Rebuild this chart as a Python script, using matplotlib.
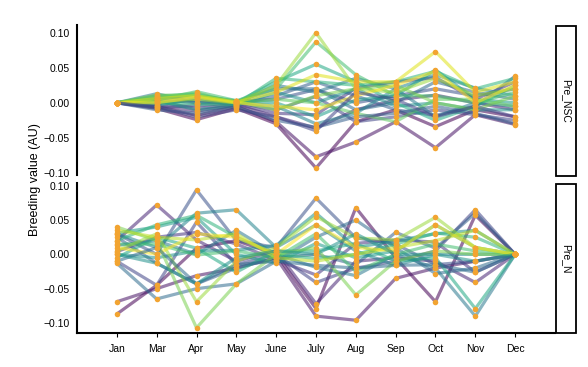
import numpy as np
import matplotlib
matplotlib.use("Agg")
import matplotlib.pyplot as plt
from matplotlib.patches import Rectangle

plt.rcParams['font.family'] = ['Liberation Sans', 'DejaVu Sans']

months = ["Jan", "Mar", "Apr", "May", "June", "July", "Aug", "Sep", "Oct", "Nov", "Dec"]
yticks = [-0.10, -0.05, 0.00, 0.05, 0.10]
panels = ["Pre_NSC", "Pre_N"]

# Pre_NSC lines: (colour position in viridis, values per month)
nsc_colors = [0.0, 0.05, 0.1, 0.15, 0.2, 0.25, 0.3, 0.35, 0.4, 0.45, 0.5,
              0.55, 0.6, 0.65, 0.7, 0.75, 0.8, 0.85, 0.95, 1.0, 0.3, 0.2]
nsc_values = [
    [0, -0.008, -0.024, -0.008, -0.030, -0.093, -0.027, -0.010, -0.034, -0.010, -0.020],
    [0, -0.005, -0.018, -0.005, -0.027, -0.077, -0.056, -0.027, -0.064, -0.017, -0.031],
    [0, -0.003, -0.012, -0.003, -0.020, -0.036, -0.010, 0.004, 0.011, 0.000, -0.010],
    [0, 0.002, -0.008, -0.002, -0.015, -0.017, 0.021, 0.030, 0.036, 0.005, 0.030],
    [0, -0.007, -0.004, 0.000, -0.010, 0.009, -0.027, -0.020, -0.010, -0.017, -0.025],
    [0, 0.005, 0.000, 0.002, 0.005, 0.019, 0.000, 0.010, 0.020, 0.010, 0.020],
    [0, 0.000, 0.004, -0.003, 0.010, 0.030, 0.010, -0.010, -0.018, -0.005, 0.038],
    [0, 0.008, 0.008, 0.001, 0.020, 0.020, -0.010, 0.000, 0.030, 0.015, 0.005],
    [0, 0.013, 0.000, 0.000, 0.025, 0.015, 0.035, 0.020, -0.020, 0.000, -0.005],
    [0, -0.004, 0.006, 0.002, -0.005, -0.030, -0.015, 0.020, 0.040, 0.021, 0.010],
    [0, 0.003, -0.010, -0.004, 0.015, 0.000, 0.020, -0.005, 0.000, -0.010, -0.010],
    [0, 0.006, 0.010, 0.003, 0.000, -0.020, 0.004, 0.010, 0.047, 0.005, 0.000],
    [0, 0.010, 0.012, 0.001, 0.030, 0.055, 0.030, 0.000, -0.025, -0.005, 0.025],
    [0, 0.000, -0.002, -0.002, 0.035, 0.030, 0.025, 0.030, 0.045, 0.020, 0.035],
    [0, 0.004, 0.016, 0.003, 0.020, 0.087, 0.040, 0.010, 0.010, 0.000, 0.015],
    [0, 0.008, 0.014, 0.000, 0.005, 0.000, -0.015, -0.027, 0.005, 0.005, -0.005],
    [0, 0.011, 0.010, 0.002, -0.010, 0.010, 0.020, 0.025, 0.000, -0.010, 0.010],
    [0, 0.002, 0.005, 0.000, 0.025, 0.100, 0.020, 0.015, 0.035, 0.010, 0.020],
    [0, 0.006, 0.010, 0.001, 0.015, 0.040, 0.030, 0.030, 0.073, 0.015, 0.030],
    [0, 0.000, 0.008, 0.000, -0.005, -0.010, 0.010, 0.025, 0.045, 0.000, 0.025],
    [0, -0.010, -0.015, -0.006, -0.025, -0.035, -0.020, -0.015, -0.005, -0.015, -0.030],
    [0, -0.006, -0.020, -0.010, -0.020, -0.040, 0.015, 0.005, -0.020, -0.005, -0.020],
]

# Pre_N lines
n_colors = [0.0, 0.05, 0.1, 0.15, 0.2, 0.25, 0.3, 0.35, 0.4, 0.45, 0.5,
            0.55, 0.6, 0.65, 0.7, 0.8, 0.85, 0.9, 1.0, 0.35, 0.5]
n_values = [
    [-0.087, -0.045, 0.009, 0.020, 0.000, -0.079, 0.068, -0.005, -0.069, 0.057, 0],
    [-0.069, -0.050, -0.031, -0.020, -0.005, -0.090, -0.096, -0.035, -0.020, -0.010, 0],
    [0.020, 0.072, 0.021, -0.010, 0.005, -0.072, -0.010, -0.005, -0.010, -0.041, 0],
    [0.004, 0.025, 0.032, 0.015, -0.008, -0.030, 0.016, 0.021, 0.018, -0.026, 0],
    [-0.010, -0.045, 0.047, -0.015, 0.000, -0.041, -0.020, -0.010, 0.005, 0.065, 0],
    [0.030, 0.000, 0.094, 0.020, 0.010, 0.082, 0.024, 0.015, -0.015, -0.010, 0],
    [0.025, -0.013, -0.043, -0.020, -0.005, 0.000, -0.015, 0.032, 0.009, 0.060, 0],
    [-0.013, -0.065, -0.050, -0.043, -0.010, 0.025, 0.050, 0.010, -0.028, -0.020, 0],
    [0.013, 0.020, 0.000, 0.035, 0.000, -0.019, -0.031, 0.000, -0.020, -0.090, 0],
    [0.030, 0.010, 0.060, 0.065, 0.010, 0.043, 0.005, -0.016, 0.000, 0.000, 0],
    [0.000, -0.005, 0.005, 0.006, 0.013, 0.060, 0.010, 0.020, 0.030, 0.035, 0],
    [0.031, 0.040, 0.054, 0.000, -0.013, 0.016, -0.005, 0.005, 0.043, 0.010, 0],
    [-0.005, 0.025, 0.009, -0.026, 0.005, 0.005, 0.016, -0.010, -0.005, -0.079, 0],
    [0.020, 0.043, 0.057, 0.025, 0.000, -0.006, 0.000, 0.015, 0.031, 0.025, 0],
    [0.015, 0.015, -0.001, 0.005, -0.005, 0.030, -0.025, 0.000, 0.015, 0.005, 0],
    [0.040, 0.020, -0.107, -0.043, 0.000, 0.010, -0.059, -0.010, 0.005, 0.000, 0],
    [0.005, 0.030, -0.069, -0.010, 0.010, 0.055, 0.024, 0.021, 0.054, 0.010, 0],
    [0.035, 0.025, 0.021, 0.030, -0.005, -0.010, 0.000, 0.010, 0.020, 0.035, 0],
    [0.010, 0.000, 0.030, 0.025, 0.000, 0.043, 0.010, 0.005, 0.043, 0.010, 0],
    [-0.010, 0.010, -0.043, -0.015, -0.010, -0.016, -0.020, -0.016, -0.015, -0.026, 0],
    [0.000, -0.013, -0.043, -0.005, 0.005, 0.000, 0.030, 0.000, 0.000, -0.010, 0],
]

W, H = 588, 367
fig = plt.figure(figsize=(W / 100, H / 100), dpi=100)

def fx(px):
    return px / W

def fy(py):
    return 1 - py / H

ax_left, ax_right = 77, 555
ax1 = fig.add_axes([fx(ax_left), fy(175), fx(ax_right - ax_left), (175 - 25) / H])
ax2 = fig.add_axes([fx(ax_left), fy(333), fx(ax_right - ax_left), (333 - 183) / H])

cmap = plt.get_cmap('viridis')
pt_color = '#F2A431'
xs = np.arange(len(months))

for ax, cols, vals in [(ax1, nsc_colors, nsc_values), (ax2, n_colors, n_values)]:
    for c, v in zip(cols, vals):
        ax.plot(xs, v, color=cmap(c), alpha=0.55, lw=2.3, solid_capstyle='round', zorder=2)
    for v in vals:
        ax.plot(xs, v, 'o', color=pt_color, ms=4.0, mec='none', zorder=3)
    ax.set_xlim(-1, 11)
    ax.set_yticks(yticks)
    ax.set_yticklabels([f"{t:.2f}".replace('-', '\u2212') for t in yticks], fontsize=7.5)
    ax.tick_params(axis='y', length=0, pad=5)
    for s in ['top', 'right']:
        ax.spines[s].set_visible(False)
    ax.spines['left'].set_linewidth(1.5)

ax1.set_ylim(-0.103, 0.111)
ax2.set_ylim(-0.1146, 0.104)

ax1.spines['bottom'].set_visible(False)
ax1.set_xticks([])
ax2.spines['bottom'].set_linewidth(1.5)
ax2.set_xticks(xs)
ax2.set_xticklabels(months, fontsize=7.5)
ax2.tick_params(axis='x', length=3, width=0.8, pad=5)

# facet strips
for (top, bot), label in zip([(26, 176), (184, 333)], panels):
    rect = Rectangle((fx(556), fy(bot)), fx(576 - 556), (bot - top) / H,
                     transform=fig.transFigure, fill=False, edgecolor='black', lw=1.3)
    fig.add_artist(rect)
    fig.text(fx(566), fy((top + bot) / 2), label, rotation=-90, ha='center', va='center',
             fontsize=7.5)

fig.text(fx(35), fy(180), "Breeding value (AU)", rotation=90, ha='center', va='center',
         fontsize=9)

fig.savefig("out.png", dpi=100)
